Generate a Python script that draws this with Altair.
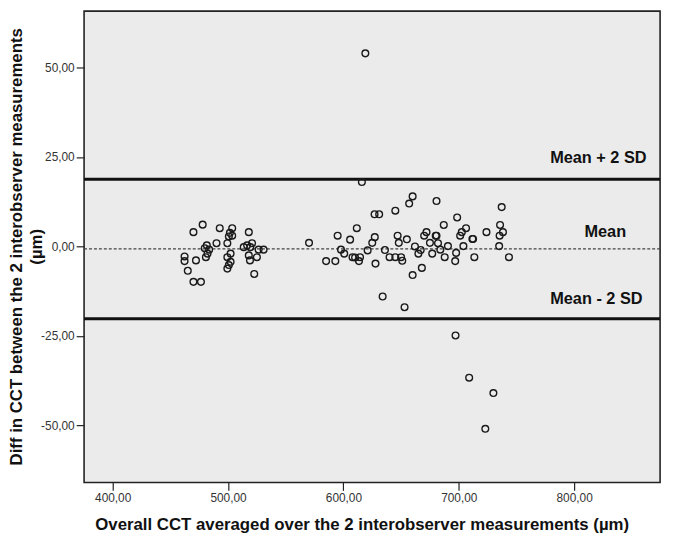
import altair as alt
import pandas as pd

# Bland-Altman data: x = mean CCT of the 2 observers, y = difference
cct_mean = [
    462.3, 462.3, 465.1, 470.0, 476.5, 470.0, 472.2, 478.0, 479.8, 480.8,
    481.6, 482.2, 483.6, 490.0, 492.8, 499.4, 500.7, 501.6, 503.6, 503.6,
    502.2, 499.4, 502.2, 500.7, 499.4, 516.5, 513.6, 519.3, 520.8, 518.0,
    518.0, 519.0, 526.5, 530.8, 525.0, 522.7,
    570.2, 585.0, 593.0, 595.0, 597.9, 600.7, 605.8, 607.9, 610.1, 611.6,
    613.5, 614.4, 621.0, 625.0, 627.2, 627.0, 627.8, 616.0, 619.0,
    631.0, 634.0, 636.0, 640.0, 645.0, 645.0, 647.0, 648.0, 650.0, 651.0,
    653.0, 655.0, 657.0, 660.0, 660.0, 662.0, 665.0, 667.0, 668.0, 670.0,
    672.0, 675.0, 677.0, 680.0,
    680.7, 680.7, 682.0, 684.0, 687.0, 687.8, 690.6,
    696.9, 697.7, 698.6, 701.2, 702.6, 704.0, 706.3, 711.8, 712.4, 713.5,
    724.0, 735.8, 737.2, 738.3, 735.4, 735.0, 743.5,
    697.2, 709.0, 730.0, 723.0,
]
cct_diff = [
    -2.8, -4.1, -6.8, -9.9, -9.9, 4.0, -3.9, 6.1, -0.5, -3.0,
    0.3, -2.0, -0.9, 0.9, 5.1, 0.9, 2.8, 3.8, 5.1, 3.0,
    -2.0, -3.0, -4.3, -5.2, -6.2, 0.3, -0.2, -0.2, 0.9, 4.0,
    -2.5, -3.9, -0.9, -0.9, -3.0, -7.7,
    1.0, -4.1, -4.1, 3.0, -0.9, -2.0, 1.9, -3.0, -3.1, 5.1,
    -4.1, -3.0, -1.1, 1.0, 2.6, 9.0, -4.8, 18.0, 54.0,
    9.0, -14.0, -1.0, -3.0, 10.0, -3.0, 3.0, 1.0, -3.0, -4.0,
    -17.0, 2.0, 12.0, 14.0, -8.0, 0.0, -2.0, -1.0, -6.0, 3.0,
    4.0, 1.0, -2.0, 3.0,
    12.7, 3.0, 0.9, -0.9, 6.0, -3.0, 0.1,
    -4.1, -1.8, 8.1, 3.0, 4.0, 0.1, 5.1, 2.1, 2.1, -3.0,
    4.0, 6.0, 11.0, 4.0, 3.0, 0.1, -3.0,
    -24.9, -36.7, -41.0, -51.0,
]

line_names = ["Mean + 2 SD", "Mean", "Mean - 2 SD"]
line_values = [18.8, -0.7, -20.2]
label_x = [821.0, 827.0, 819.3]
label_y = [24.6, 4.1, -14.6]

x_ticks = [400, 500, 600, 700, 800]
y_ticks = [-50, -25, 0, 25, 50]

pts = pd.DataFrame({"x": cct_mean, "y": cct_diff})
lines = pd.DataFrame({"name": line_names, "v": line_values})
labels = pd.DataFrame({"name": line_names, "x": label_x, "y": label_y})

fmt = "replace(replace(format(datum.value, '.2f'), '.', ','), '\u2212', '-')"

xscale = alt.Scale(domain=[375.2, 874.5], nice=False, zero=False)
yscale = alt.Scale(domain=[-66.0, 65.8], nice=False, zero=False)

x_axis = alt.Axis(
    title="Overall CCT averaged over the 2 interobserver measurements (µm)",
    values=x_ticks, labelExpr=fmt, grid=False, domain=False,
    tickSize=8, tickColor="#222", tickWidth=1.2,
    labelFont="Liberation Sans", labelFontSize=12, labelColor="#333", labelPadding=2,
    titleFont="Liberation Sans", titleFontSize=17, titleFontWeight="bold", titleColor="#111",
    titleX=281, titleY=48, titleAlign="center", titleBaseline="alphabetic",
)
y_axis = alt.Axis(
    title=["Diff in CCT between the 2 interobserver measurements", "(µm)"],
    values=y_ticks, labelExpr=fmt, grid=False, domain=False,
    tickSize=8, tickColor="#222", tickWidth=1.2,
    labelFont="Liberation Sans", labelFontSize=12, labelColor="#333", labelPadding=2,
    titleFont="Liberation Sans", titleFontSize=17, titleFontWeight="bold", titleColor="#111",
    titleAngle=-90, titleX=-76, titleY=238, titleAlign="center", titleBaseline="top",
    titleLineHeight=20,
)

points = alt.Chart(pts).mark_point(
    shape="circle", filled=False, size=46, stroke="#1a1a1a", strokeWidth=1.4, opacity=1
).encode(
    x=alt.X("x:Q", scale=xscale, axis=x_axis),
    y=alt.Y("y:Q", scale=yscale, axis=y_axis),
)

limit_lines = alt.Chart(lines).transform_filter(
    alt.datum.name != "Mean"
).mark_rule(color="#111", strokeWidth=3).encode(
    y=alt.Y("v:Q", scale=yscale)
)

mean_line = alt.Chart(lines).transform_filter(
    alt.datum.name == "Mean"
).mark_rule(color="#444", strokeWidth=1.2, strokeDash=[3, 2]).encode(
    y=alt.Y("v:Q", scale=yscale)
)

texts = alt.Chart(labels).mark_text(
    font="Liberation Sans", fontSize=16.5, fontWeight="bold", color="#111",
    align="center", baseline="middle"
).encode(
    x=alt.X("x:Q", scale=xscale),
    y=alt.Y("y:Q", scale=yscale),
    text="name:N",
)

chart = alt.layer(limit_lines, mean_line, points, texts).properties(
    width=583, height=477,
    autosize=alt.AutoSizeParams(type="none"),
    padding={"left": 77, "top": 0, "right": 7, "bottom": 50},
    background="white",
).configure_view(
    fill="#EBEBEB", stroke="#222", strokeWidth=1.6
)

chart.save("out.html", embed_options={"renderer": "svg", "actions": False})
